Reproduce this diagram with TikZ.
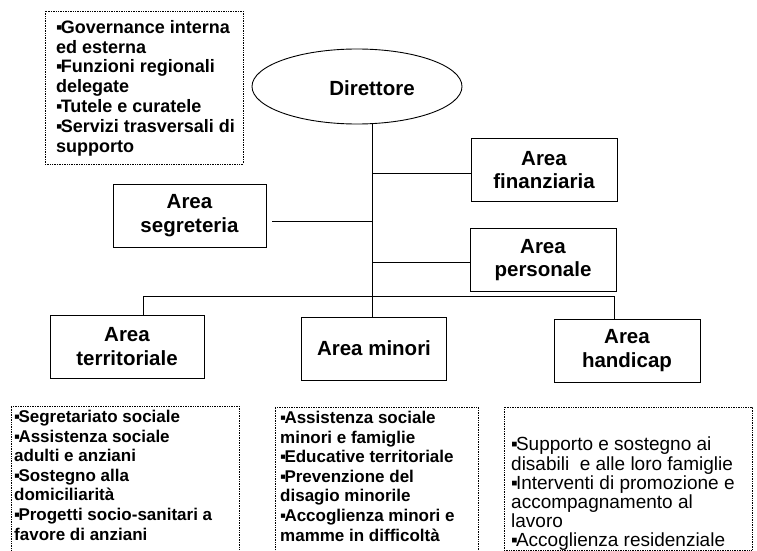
\documentclass[tikz,border=0pt]{standalone}
\usepackage{fontspec}
\setmainfont{Liberation Sans}
\usetikzlibrary{positioning,calc,shapes.geometric}
\newcommand{\punto}{▪\kern-0.1em}

\begin{document}
\begin{tikzpicture}[x=1pt, y=-1pt,
  area/.style={rectangle, draw=black, line width=0.9pt, minimum width=146pt, minimum height=63pt,
    align=center, inner sep=0pt, font=\fontsize{20.5}{23.5}\selectfont\bfseries},
  elenco/.style={rectangle, draw=black, densely dotted, line width=0.7pt, inner sep=0pt},
  voci/.style={anchor=north west, align=left, inner sep=0pt, font=\fontsize{17}{19.6}\selectfont\bfseries},
  linea/.style={line width=0.9pt}]
  \useasboundingbox (0,0) rectangle (757,551);

  % direzione
  \node (gov) [elenco, minimum width=198pt, minimum height=153pt] at (144,87.5) {};
  \node (govtxt) [voci, font=\fontsize{18}{19.8}\selectfont\bfseries] at (56,20)
    {\punto Governance interna\\ ed esterna\\ \punto Funzioni regionali\\ delegate\\
     \punto Tutele e curatele\\ \punto Servizi trasversali di\\ supporto};
  \node (dir) [ellipse, draw=black, line width=0.9pt, minimum width=210pt, minimum height=75pt,
    inner sep=0pt] at (357,86.5) {};
  \node (dirtxt) [font=\fontsize{20.5}{23.5}\selectfont\bfseries] at (372,88) {Direttore};

  % aree di staff
  \node (fin) [area] at (544,170) {Area\\ finanziaria};
  \node (seg) [area, minimum width=153pt] at (189.5,215.5) {Area\\ segreteria};
  \node (per) [area] at (543,260) {Area\\ personale};

  % aree operative
  \node (ter) [area, minimum width=154pt] at (127,346.5) {Area\\ territoriale};
  \node (min) [area, minimum width=145pt] at (374,348.5) {Area minori};
  \node (han) [area] at (627,350.5) {Area\\ handicap};

  % elenchi
  \node (terbox) [elenco, minimum width=228pt, minimum height=145pt] at (125,478.5) {};
  \node (minbox) [elenco, minimum width=203pt, minimum height=144pt] at (376.5,479) {};
  \node (hanbox) [elenco, minimum width=248pt, minimum height=143pt] at (628,478.5) {};
  \node (tertxt) [voci] at (14,410)
    {\punto Segretariato sociale\\ \punto Assistenza sociale\\ adulti e anziani\\
     \punto Sostegno alla\\ domiciliarità\\ \punto Progetti socio-sanitari a\\ favore di anziani};
  \node (mintxt) [voci] at (280,411)
    {\punto Assistenza sociale\\ minori e famiglie\\ \punto Educative territoriale\\
     \punto Prevenzione del\\ disagio minorile\\ \punto Accoglienza minori e\\ mamme in difficoltà};
  \node (hantxt) [voci, font=\fontsize{19}{19.1}\selectfont] at (511,437)
    {\punto Supporto e sostegno ai\\ disabili\ \ e alle loro famiglie\\ \punto Interventi di promozione e\\
     accompagnamento al\\ lavoro\\ \punto Accoglienza residenziale};

  % collegamenti
  \coordinate (trunk) at (372,124);
  \coordinate (busl) at (143,296);
  \coordinate (busr) at (614,296);
  \draw [linea] (trunk) -- (trunk |- min.north);
  \draw [linea] ([yshift=-3pt]fin.west) -- ([yshift=-3pt]fin.west -| trunk);
  \draw [linea, shorten <=6pt] ([yshift=-5.5pt]seg.east) -- ([yshift=-5.5pt]seg.east -| trunk);
  \draw [linea] ([yshift=-2pt]per.west) -- ([yshift=-2pt]per.west -| trunk);
  \draw [linea] (ter.north -| busl) -- (busl) -- (busr) -- (han.north -| busr);
\end{tikzpicture}
\end{document}
